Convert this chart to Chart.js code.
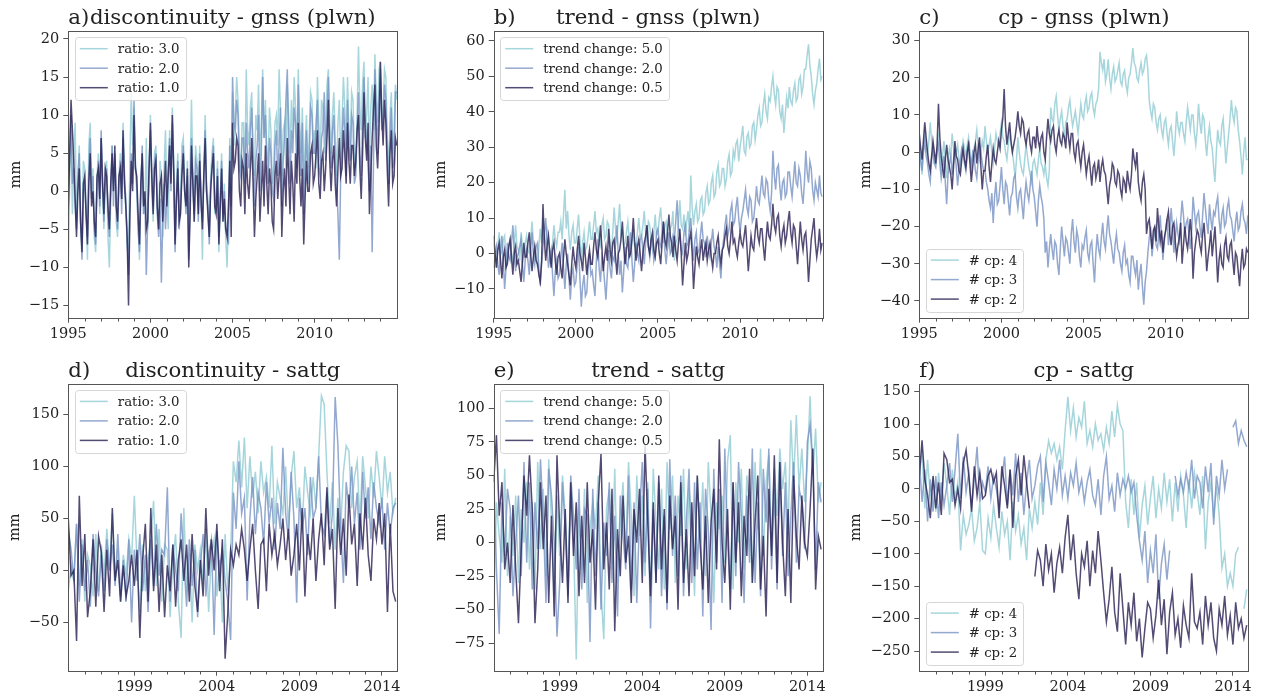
<!DOCTYPE html>
<html>
<head>
<meta charset="utf-8">
<script src="https://cdn.jsdelivr.net/npm/chart.js@4/dist/chart.umd.min.js"></script>
<style>
  body { margin: 0; background: #fff; }
  #figure { position: relative; width: 1263px; height: 697px; }
  #figure canvas { position: absolute; }
</style>
</head>
<body>
<div id="figure"></div>
<script>
// sampling: gnss monthly, sattg every two months, both from Jan 1995
const START_YEAR = 1995;
const GNSS_STEP = 1 / 12;
const SATTG_STEP = 1 / 6;

// tick labels
const gnssYears = [1995, 2000, 2005, 2010];
const sattgYears = [1999, 2004, 2009, 2014];
const ticksDiscGnss = [-15, -10, -5, 0, 5, 10, 15, 20];
const ticksTrendGnss = [-10, 0, 10, 20, 30, 40, 50, 60];
const ticksCpGnss = [-40, -30, -20, -10, 0, 10, 20, 30];
const ticksDiscSattg = [-50, 0, 50, 100, 150];
const ticksTrendSattg = [-75, -50, -25, 0, 25, 50, 75, 100];
const ticksCpSattg = [-250, -200, -150, -100, -50, 0, 50, 100, 150];

// legend entries
const ratioLabels = ['ratio: 3.0', 'ratio: 2.0', 'ratio: 1.0'];
const trendLabels = ['trend change: 5.0', 'trend change: 2.0', 'trend change: 0.5'];
const cpLabels = ['# cp: 4', '# cp: 3', '# cp: 2'];

// gnss (plwn), mm, one row per year
const gnssDiscRatio30 = [
  -10, 2, 8, -3, 5, 9, -4, 1, 6, -5, -7, 4,
  3, -2, -9, 6, 9, 0, 3, -6, -8, 2, 5, -3,
  7, 0, -5, 3, 4, -6, -10, -1, 6, 1, 4, -4,
  -6, 2, 5, -1, 9, 3, -2, -7, -9, 4, 13, 6,
  11, 3, 0, -4, -9, 1, 5, -3, -2, 7, -5, 2,
  10, 0, -4, 5, 6, -2, -5, 4, 2, -6, 3, 8,
  0, -5, 8, 2, 11, 4, -6, 1, 5, -3, -1, 6,
  7, 1, -2, 4, -8, 3, 12, 2, -4, 6, 4, -2,
  6, -1, -9, 3, 10, 1, -1, -6, 2, 5, 7, -3,
  -1, 4, -8, -2, 5, -4, 1, -6, -10, -3, 7, 0,
  13, 6, 10, 15, 12, 5, 3, 9, 9, 2, 16, 8,
  6, 11, 13, 4, 2, 10, 8, 14, 4, 9, 16, 7,
  12, 5, 4, 11, 8, 1, 3, 9, 10, 6, 16, 11,
  2, 8, 9, 3, 14, 10, 5, 12, 7, 15, 11, 4,
  16, 9, 5, 11, 1, 6, 10, 3, 7, 13, 12, 6,
  8, 3, 15, 9, 4, 12, 11, 5, 7, 14, 16, 9,
  5, 10, 13, 7, 2, 9, 12, 4, 9, 15, 11, 6,
  15, 8, 6, 13, 12, 5, 3, 10, 19, 11, 8, 14,
  17, 7, 10, 15, 4, 11, 14, 8, 18, 12, 9, 16,
  17, 9, 11, 16, 15, 7, 2, 10, 13, 5, 8, 14,
  12
];
const gnssDiscRatio20 = [
  -3, 4, 10, 1, 3, -2, -5, 2, 5, -4, -9, 0,
  1, -3, -6, 3, 7, -1, 2, -5, -7, 1, 4, -2,
  8, 2, -4, 1, 3, -3, -6, 0, 6, -2, 5, -1,
  -5, 1, 4, -3, 7, 2, -1, -6, -11, -2, 5, 1,
  12, 4, 1, -5, -8, 0, 6, -3, -1, -11, -4, 3,
  8, 2, -2, 4, 5, -3, -6, -1, -12, -4, 1, -5,
  -1, 3, 7, 0, 9, 2, -8, -2, 4, -5, -2, 3,
  6, 0, -3, 2, -9, -1, 7, 1, -3, 4, 3, -4,
  5, -2, -4, 2, 8, 0, -2, -7, 1, 3, 6, -1,
  -2, 3, -6, -1, 4, -3, 0, -5, -5, -7, 6, -2,
  15, 9, 8, 12, 10, 3, 2, 7, 7, 1, 9, 5,
  3, 8, 11, 5, -2, 4, 6, 10, 0, 5, 15, 7,
  10, 4, 1, 7, 5, 0, -1, 6, 8, 2, 6, 11,
  -2, 4, 7, 12, 16, 6, 1, 8, 5, 11, 9, 3,
  14, 7, 2, 9, -3, 3, 8, 1, 4, 11, 10, 5,
  5, 9, 12, 3, 2, 7, 8, 13, 4, 10, 15, 6,
  3, 8, 10, 4, 1, -3, -9, 2, 6, 11, 8, 2,
  12, 6, 4, 10, 9, 1, 2, 8, 13, 5, 2, 9,
  15, 9, 7, 3, 0, 6, -8, 4, 16, 10, 5, 12,
  16, 8, 9, 14, 12, 5, 1, 7, 11, 3, 4, 13,
  13
];
const gnssDiscRatio10 = [
  -2, 5, 12, 8, 4, -1, -6, 0, 3, -4, -8, 1,
  2, -3, -7, 1, 5, -2, 0, -4, -6, 2, 3, -1,
  7, 1, -3, 3, 2, -2, -5, 1, 5, 0, 6, -2,
  -4, 2, 3, -1, 8, 1, -2, -6, -15, -3, 4, 0,
  10, 3, 2, -3, -7, 1, 5, -2, 0, -5, -4, 3,
  9, 2, -3, 3, 4, -2, -5, 1, 2, -4, 0, 4,
  -2, 2, 6, 1, 10, 3, -7, -1, 3, -4, -3, 2,
  5, 0, -2, 3, -10, -3, 6, 1, -4, 2, 2, -3,
  4, -1, -5, 2, 7, 0, -3, -6, 0, 3, 5, -2,
  -3, 2, -7, -2, 3, -4, -1, -5, -6, -2, 4, -6,
  9, 3, 4, 7, 6, 0, -2, 4, 3, -3, 5, 1,
  -1, 3, 7, 1, -6, -1, 2, 5, -4, 0, 4, -2,
  6, 1, -3, 3, 1, -4, -5, 2, 4, -1, 2, 5,
  -6, 0, 3, -2, 7, 2, -3, 4, 1, -4, 5, 1,
  9, 2, -2, 3, -7, -1, 4, 0, 0, 5, 6, 1,
  2, 5, 8, 1, -1, 4, 5, 0, 3, 7, 12, 4,
  0, 4, 6, 1, -2, 3, 7, 2, 3, 8, 5, 1,
  9, 4, 1, 6, 6, 2, 4, 8, 10, 3, -1, 5,
  13, 7, 4, 9, -3, 2, 7, 11, 14, 6, 3, 8,
  17, 10, 6, 12, 9, 3, -2, 5, 8, 1, 2, 7,
  6
];
const gnssTrend50 = [
  3, -1, -4, 2, 6, 1, 0, 4, 5, -3, -2, 2,
  4, 0, -3, 3, 8, 2, 1, -2, 6, 2, -1, 3,
  5, 1, 0, 4, 9, 3, 2, -1, -4, 2, 7, 3,
  10, 4, 3, 7, 5, 0, -3, 3, 8, 4, 2, 6,
  6, 9, 4, 11, 18, 7, 12, 5, 1, 6, 8, 3,
  3, 7, 11, 4, -2, 3, 6, 1, 2, 5, 9, 4,
  4, 8, 12, 6, 7, 3, 2, 8, 10, 4, 5, 9,
  8, 3, 0, 6, 13, 7, 4, 9, 14, 5, 6, 2,
  3, 6, 9, 4, -1, 3, 7, 2, 2, 6, 10, 5,
  5, 8, 12, 6, 4, 9, 8, 3, 1, 6, 11, 5,
  6, 10, 13, 7, 3, 8, 9, 4, 2, 7, 8, 12,
  -2, 3, 4, 9, 15, 8, 7, 11, 5, 9, 12, 6,
  22, 13, 8, 12, 14, 9, 10, 15, 16, 11, 12, 17,
  19, 14, 15, 20, 22, 16, 17, 23, 25, 19, 20, 24,
  24, 19, 21, 26, 28, 22, 23, 29, 27, 31, 32, 26,
  30, 33, 36, 29, 28, 33, 34, 30, 31, 36, 37, 32,
  35, 39, 41, 36, 37, 42, 45, 40, 38, 44, 43, 47,
  50, 45, 42, 47, 46, 40, 38, 42, 34, 39, 44, 41,
  47, 43, 42, 46, 48, 43, 44, 49, 50, 45, 47, 52,
  52, 56, 59, 53, 50, 45, 42, 46, 48, 52, 55, 49,
  50
];
const gnssTrend20 = [
  -4, 0, 2, -3, -6, 1, 5, -2, -10, -4, 3, -1,
  -2, 3, 8, 1, -5, -1, 0, 2, 4, -3, -8, -2,
  1, -2, -6, 1, 6, 0, -3, 2, 3, -4, -9, -3,
  2, 6, 10, 2, -4, -1, 1, -6, -12, -5, -2, -7,
  -6, -1, 3, -4, -10, -3, 0, -7, -13, -6, -4, -9,
  -8, -3, 2, -7, -15, -9, -6, -12, -11, -4, 0, -6,
  -5, -9, -12, -2, 4, -4, -8, -1, -3, -8, -13, -6,
  1, -4, -7, -1, -2, 3, 8, 0, -6, -2, -11, -5,
  2, -3, -4, 1, 6, -2, -8, -3, 3, 0, -2, 4,
  5, 1, -3, 3, 8, 2, -1, 4, 4, -2, 0, 6,
  7, 3, 2, 6, 9, 1, -3, 2, 6, 0, 1, 5,
  4, 9, 15, 7, 5, 1, 0, 6, 8, 2, 3, 7,
  10, 3, -2, 4, 6, 0, 1, 5, 9, 4, 3, -1,
  5, 1, -1, 3, 7, 2, 0, -4, 2, -3, -7, 1,
  4, 8, 11, 5, 7, 12, 14, 8, 9, 13, 16, 10,
  6, 10, 12, 15, 18, 13, 11, 16, 15, 9, 10, 14,
  19, 15, 14, 18, 22, 17, 16, 21, 20, 15, 12, 17,
  29, 22, 18, 24, 25, 19, 15, 20, 21, 16, 17, 23,
  23, 19, 16, 21, 26, 20, 19, 24, 22, 17, 14, 20,
  29, 23, 20, 26, 24, 18, 15, 20, 18, 16, 22, 17,
  16
];
const gnssTrend05 = [
  5, 0, -4, 1, 3, -2, -7, -1, 1, -4, -3, 2,
  4, -1, -6, 0, 2, -3, -2, -5, -8, -2, 3, -1,
  -1, 3, 6, 0, -5, -1, 2, -2, -3, -6, -8, -2,
  14, 4, -2, 2, 5, 0, -4, 1, 3, -2, -6, -1,
  0, -4, -7, -1, 4, 0, -3, -6, -9, -3, 2, -2,
  -4, 1, 5, 0, -2, -5, 3, -1, -6, -2, 1, -3,
  -3, 2, 6, 1, -1, 3, 8, 2, -5, -1, 2, -2,
  7, 1, -2, 3, 4, -1, -6, 0, 1, 4, 9, 2,
  -3, 1, 5, -1, 0, 4, 10, 3, -2, 2, 4, 0,
  -5, 0, 3, 5, 8, 2, 0, 4, 6, 1, -1, 3,
  4, 0, -3, 3, 9, 4, 2, 6, 11, 5, 3, -1,
  5, 1, -2, 3, 7, 0, -9, -3, 3, -2, 0, 4,
  6, 0, -10, -4, 2, -1, -3, 1, 4, -2, 1, 3,
  -2, 1, 3, -1, -4, 0, 0, 3, 5, 0, -3, 1,
  2, 5, 7, 2, 0, 4, 9, 3, 4, 1, -1, 3,
  6, 3, 2, 5, 8, 2, -5, 0, 5, 2, 1, 6,
  10, 5, 3, 7, 7, 2, -2, 4, 9, 5, 4, 8,
  14, 8, 6, 10, 11, 5, 2, 6, 8, 3, 5, 9,
  12, 6, 3, 8, 7, 2, -3, 3, 9, 4, 1, 5,
  6, 0, -8, -2, 4, 7, 10, 3, -1, 2, 7, 1,
  3
];
const gnssCp4 = [
  2, -2, -6, 1, 5, 2, -1, 3, 8, 3, 0, -3,
  -3, 1, 4, 0, -5, -1, 3, -2, -7, -2, 1, -1,
  5, 1, -2, 0, 2, -2, -4, 0, 3, 1, -1, 2,
  4, 0, -3, -1, 1, 3, 6, 2, -2, 0, 3, 1,
  7, 3, 0, 2, 4, 0, -3, 1, 5, 3, 2, 5,
  8, 4, 3, 0, -2, 2, 6, 2, 0, -3, -7, -2,
  4, 0, -3, -5, -6, -2, 2, -1, -4, -6, -8, -3,
  -2, -4, -6, -2, 1, -3, -4, -6, -3, -7, -9, -5,
  12, 9, 8, 13, 15, 10, 6, 9, 11, 7, 4, 8,
  9, 12, 14, 10, 7, 9, 11, 8, 5, 9, 13, 10,
  9, 13, 15, 11, 12, 15, 16, 12, 10, 13, 14, 17,
  27, 24, 22, 25, 19, 21, 25, 20, 17, 21, 23, 19,
  20, 22, 24, 19, 18, 21, 22, 18, 16, 20, 21, 24,
  28, 24, 23, 20, 19, 22, 24, 21, 22, 25, 26, 22,
  14, 11, 9, 13, 12, 8, 6, 9, 10, 6, 4, 8,
  9, 5, 2, 6, 7, 3, -1, 4, 11, 7, 5, 8,
  8, 5, 3, 8, 12, 9, 6, 10, 10, 5, 2, 6,
  13, 8, 5, 10, 9, 3, -1, 4, 7, 3, 1, -4,
  -8, 0, 6, 3, 2, 7, 9, 3, -3, 1, 5, 9,
  14, 10, 8, 12, 11, 6, 3, -1, -6, 0, 4, -2,
  -2
];
const gnssCp3 = [
  0, -2, -5, 0, 3, -1, -3, -6, -8, -2, 1, -3,
  -4, 0, 2, -3, -7, -4, -1, -8, -14, -6, -3, -1,
  -6, -2, 1, -4, -9, -5, -2, 1, 0, -3, -5, -1,
  3, -1, -4, 0, -1, -5, -7, -2, 2, 0, -3, -5,
  -5, -8, -10, -13, -15, -11, -19, -12, -8, -14, -13, -9,
  -4, -10, -14, -8, -9, -13, -17, -12, -11, -7, -6, -12,
  -15, -11, -10, -14, -18, -12, -8, -11, -13, -9, -5, -10,
  -12, -16, -20, -13, -9, -12, -14, -18, -27, -24, -31, -26,
  -22, -26, -29, -24, -25, -30, -33, -26, -20, -24, -28, -23,
  -24, -27, -30, -22, -18, -24, -27, -21, -23, -28, -31, -25,
  -26, -23, -21, -27, -29, -25, -24, -30, -35, -27, -22, -26,
  -28, -23, -19, -24, -26, -21, -17, -22, -24, -27, -30, -25,
  -22, -26, -27, -30, -32, -27, -25, -30, -29, -33, -35, -28,
  -28, -31, -33, -29, -37, -33, -30, -36, -41, -35, -32, -27,
  -23, -20, -28, -24, -20, -25, -26, -22, -17, -23, -29, -24,
  -21, -18, -25, -21, -15, -20, -27, -23, -19, -22, -24, -18,
  -13, -17, -22, -19, -18, -22, -26, -21, -12, -16, -20, -17,
  -16, -20, -23, -17, -11, -15, -19, -22, -14, -18, -21, -16,
  -17, -14, -12, -18, -22, -17, -15, -20, -19, -15, -13, -17,
  -18, -21, -24, -19, -16, -21, -20, -16, -14, -18, -19, -22,
  -17
];
const gnssCp2 = [
  5, 1, -2, 3, 8, 4, 0, -3, -5, -1, 3, 0,
  -3, 2, 13, 4, -1, -4, -7, -2, 2, -2, -4, -6,
  -10, -4, 3, -1, -2, -5, -6, -2, 1, -2, -4, 0,
  2, -3, -8, -4, 0, 2, -3, 1, 4, -4, -10, -5,
  -5, -1, 2, -4, -8, -3, 1, -2, -3, 0, 3, 1,
  6, 9, 17, 7, 2, 5, 8, 3, 0, 2, 4, 7,
  11, 7, 5, 9, 8, 4, 2, 5, 6, 2, 0, 4,
  4, 1, 7, 3, 1, 4, 5, 0, -2, 4, 9, 5,
  3, 6, 7, 2, 0, 4, 6, 3, 2, 5, 4, 1,
  8, 4, 1, 5, 5, 0, -2, 2, 3, -1, -4, 0,
  2, -2, -6, -3, -1, -5, -9, -4, -3, -7, -5, -2,
  -8, -4, -2, -5, -6, -10, -14, -9, -7, -3, -4, -8,
  -9, -5, -6, -10, -12, -7, -8, -11, -5, -8, -10, -6,
  1, -2, -4, 0, -8, -11, -13, -8, -6, -10, -22, -19,
  -18, -22, -26, -21, -20, -24, -15, -20, -24, -21, -27, -23,
  -21, -18, -16, -22, -25, -20, -19, -24, -28, -25, -23, -19,
  -30, -25, -20, -24, -26, -22, -18, -23, -34, -27, -24, -21,
  -22, -25, -27, -22, -19, -25, -32, -28, -25, -21, -28, -24,
  -20, -27, -35, -29, -26, -30, -31, -25, -23, -28, -29, -25,
  -24, -29, -33, -27, -28, -32, -36, -30, -26, -31, -30, -26,
  -27
];

// sattg, mm, one row per year
const sattgDiscRatio30 = [
  -20, 5, -10, 45, -15, 30,  -30, 15, 5, -25, 35, -20,  25, -5, 40, 0, 55, -10,  20, -30, 15, -5, 30, 10,
  72, 5, -40, 25, -20, 10,  30, 67, -15, 40, -30, 25,  20, -45, 10, 35, -30, -65,  60, -20, 15, -50, 25, 0,
  20, -10, 40, -40, 15, 30,  -25, 10, -50, 35, -20, 15,  105, 85, 125, 80, 128, 60,  110, 70, 95, 55, 105, 75,
  90, 60, 120, 45, 85, 70,  55, 100, 40, 90, 115, 60,  80, 40, 100, 75, 55, 90,  60, 110, 168, 160, 95, 45,
  85, 20, 70, 40, 95, 120,  115, 60, 90, 105, 45, 110,  80, 50, 100, 70, 115, 90,  60, 110, 75, 95, 55, 70
];
const sattgDiscRatio20 = [
  40, 20, -10, 45, -30, 25,  -20, 10, -35, 35, 0, -25,  15, -20, 30, 0, 25, -15,  35, -25, 10, -30, 30, -50,
  20, -10, 35, -20, 15, -40,  30, -15, 45, -5, 20, 15,  80, -30, 25, 0, -20, 55,  10, -35, 30, -15, 20, -45,
  5, 35, -25, 15, 30, -62,  38, 0, 20, -10, -30, -67,  75, 40, 105, 55, 70, -29,  50, 90, 35, 75, 60, 25,
  85, 45, 70, 20, 65, 40,  118, 55, 30, 95, 50, -31,  70, 40, 60, 15, 90, 50,  60, 110, 45, 35, 75, 25,
  55, 167, 120, 40, -12, 85,  60, 100, 45, 75, 20, 95,  50, 80, 30, 85, 60, 45,  70, 20, 65, 35, 60, 65
];
const sattgDiscRatio10 = [
  50, -5, 0, -68, 72, -15,  35, -45, -20, 30, -35, 33,  18, -40, 20, -25, 60, -10,  10, -30, 5, -25, -10, 15,
  -15, 20, -65, 10, 45, -30,  60, -20, 25, -40, 15, -45,  5, -20, 25, -35, 10, 30,  -10, 25, -30, 35, -15, -40,
  10, -25, 60, -5, 30, 0,  45, -20, 30, -85, -40, 20,  5, 25, 15, 40, 20, -10,  20, 45, 0, -37, 25, 30,
  -20, 45, 15, 35, 5, 25,  50, 10, 40, -5, 15, 45,  0, 60, -25, 35, 10, 50,  -10, 30, 55, 5, 80, 20,
  40, -37, 60, 15, 50, -5,  73, 25, 45, -15, 55, 20,  70, 15, -10, 50, 30, 65,  25, 55, -40, 45, -20, -30
];
const sattgTrend50 = [
  -50, 30, 5, -15, 55, -25,  20, -10, 35, -30, 25, 0,  45, -20, 30, -35, 60, -5,  40, -25, 62, 15, -40, 35,
  -10, 50, 20, -30, 45, 5,  -87, 25, -20, 40, -45, 10,  30, 10, 50, -35, -72, 25,  40, -20, 55, -30, 15, 45,
  -10, 60, 20, -40, 50, 5,  35, -25, 45, -45, 55, 15,  -20, 40, -35, 60, 10, 50,  -30, 35, 5, 55, -20, 40,
  15, -40, 50, 0, 45, -25,  60, 20, -45, 30, 10, 35,  -15, 60, 80, -35, 45, 0,  55, -20, 50, 25, -30, 60,
  10, 70, -10, 45, 65, -5,  55, 20, 70, 40, 60, 10,  91, 45, 95, 40, 70, 30,  60, 109, 50, 85, 30, 45
];
const sattgTrend20 = [
  50, -20, -68, 30, -10, 40,  25, -40, 0, 35, -25, 60,  -15, 45, -35, 30, -5, 62,  20, -45, 55, 35, 0, -70,
  -30, 45, 10, -40, 50, 20,  -20, 40, -35, 25, 20, -74,  40, -25, 30, -50, 15, -10,  45, -30, 20, -55, 35, 5,
  -20, 50, -35, 30, -45, 20,  60, -15, 40, -64, 25, -30,  45, -40, 20, -50, 62, -10,  35, -25, 50, -40, 15, 55,
  -30, 45, -20, 30, -55, 40,  10, -65, 55, -15, 40, -45,  70, 0, -35, 45, -25, 60,  20, -45, 35, -15, 70, -30,
  30, -40, 55, 15, 70, -20,  40, -35, 60, -10, 45, -25,  20, 60, -15, 40, 30, -5,  75, 88, 55, -20, 45, 30
];
const sattgTrend05 = [
  45, 80, 20, 45, -20, 0,  -30, 28, -20, -60, -5, 50,  20, 65, 25, -60, -20, 45,  -5, 35, -45, 20, -55, 65,
  10, -30, 25, -45, 45, -10,  30, -40, 20, -30, 45, -15,  10, -50, 30, 66, -20, 15,  -35, 40, -66, 10, -25, 35,
  -15, 5, -45, 25, 0, 40,  -30, 73, 15, -40, 30, -30,  50, -20, 25, -45, 35, -5,  20, -50, 45, -30, 10, -40,
  30, -25, 50, 0, -35, 20,  -45, 15, 40, -20, 77, 0,  -30, 25, -50, 45, -15, 30,  -40, 20, -10, 55, -30, 15,
  50, -35, 5, -55, 40, -10,  65, -30, 60, 0, -40, 25,  -45, 50, 5, -20, 35, 0,  -10, 25, 70, -35, 5, -5
];
const sattgCp4 = [
  20, 60, -30, 45, -10, 15,  -35, 25, -20, 40, 5, -40,  30, -15, 10, -95, -40, -70,  -55, -30, -80, -60, -20, -95,
  -100, -45, -75, -25, -60, -90,  -35, -70, -50, -110, -20, -65,  -40, -85, -60, -110, -30, -60,  -20, -55, 10, -40, 45, 74,
  55, 70, 45, 65, 30, 90,  142, 90, 125, 80, 110, 95,  135, 70, 90, 65, 100, 75,  85, 60, 95, 70, 120, 80,
  129, 100, 90, -20, -60, 15,  -40, 10, -76, -25, 5, -55,  -15, 20, -45, 0, -30, 25,  -20, 15, -50, 10, -35, 20,
  -10, -60, 15, -30, 25, -5,  -40, 20, -93, -20, 10, -45,  5, -40, -122, -100, -150, -130,  -150, -100, -90, null, -185, -155
];
const sattgCp3 = [
  45, -20, 30, -50, 15, -35,  20, -45, 10, -25, 5, 40,  -20, 30, 85, -15, 50, -5,  25, -30, 15, 65, -20, 10,
  -5, 35, -15, 20, 0, -30,  15, 50, -25, 30, -10, 55,  -20, 25, -40, 10, 45, -15,  5, 35, 50, -20, 40, 10,
  -25, 30, 0, 45, -10, 20,  -15, 25, 5, 40, -5, 15,  -20, 10, 30, -10, -25, 15,  -40, 20, 50, -15, 5, -35,
  25, -10, 15, 0, 20, -5,  10, -40, -80, -110, -65, -145,  -95, -130, -70, -170, -115, -85,  -140, -95, null, 20, -10, 15,
  -5, 25, 0, 45, -15, 20,  10, -30, 35, -5, 40, -55,  20, -10, 45, 0, 30, null,  95, 105, 70, 90, 75, 65
];
const sattgCp2 = [
  20, 75, 15, -10, -45, 20,  -30, 10, -40, 55, 45, 10,  15, -25, 0, -30, 40, 60,  20, -35, 35, -10, 25, -15,
  -10, 20, 30, 10, 25, -45,  35, 5, -30, 30, -60, 20,  45, -10, 52, 10, -30, null,  -135, -95, -110, -150, -85, -125,
  -100, -160, -115, -90, -130, -75,  -40, -110, -70, -130, -170, -100,  -120, -80, -150, -95, -130, -65,  -110, -160, -205, -170, -120, -190,
  -220, -130, -185, -240, -175, -210,  -160, -235, -200, -260, -215, -175,  -185, -230, -195, -140, -210, -170,  -255, -190, -160, -225, -200, -245,
  -180, -210, -230, -130, -205, -215,  -190, -240, -165, -210, -175, -230,  -250, -185, -210, -165, -225, -195,  -240, -175, -215, -200, -230, -210
];

const SERIF = '"DejaVu Serif", "Liberation Serif", serif';
const TEXT = '#222';
const FRAME = '#555';
const COLORS = ['rgba(144,204,211,0.8)', 'rgba(120,146,195,0.8)', 'rgba(40,30,80,0.8)'];

// canvas boxes and plot areas in page pixels
const COLS = [
  { x: 0, w: 420, left: 68.3, right: 397.3 },
  { x: 420, w: 421, left: 493.7, right: 822.7 },
  { x: 841, w: 422, left: 919.3, right: 1248.3 }
];
const ROWS = [
  { y: 0, h: 345, top: 31.3, bottom: 317.7, titleY: 24 },
  { y: 345, h: 352, top: 384, bottom: 670.7, titleY: 376.7 }
];

const panels = [
  { col: 0, row: 0, tag: 'a)', title: 'discontinuity - gnss (plwn)', series: [gnssDiscRatio30, gnssDiscRatio20, gnssDiscRatio10], step: GNSS_STEP,
    labels: ratioLabels, legend: 'upper', yMin: -16.6, yMax: 21, yTicks: ticksDiscGnss, xMax: 2015.03, years: gnssYears, ylabelDx: 52 },
  { col: 1, row: 0, tag: 'b)', title: 'trend - gnss (plwn)', series: [gnssTrend50, gnssTrend20, gnssTrend05], step: GNSS_STEP,
    labels: trendLabels, legend: 'upper', yMin: -18.1, yMax: 62.7, yTicks: ticksTrendGnss, xMax: 2015.03, years: gnssYears, ylabelDx: 52 },
  { col: 2, row: 0, tag: 'c)', title: 'cp - gnss (plwn)', series: [gnssCp4, gnssCp3, gnssCp2], step: GNSS_STEP,
    labels: cpLabels, legend: 'lower', yMin: -44.5, yMax: 32.5, yTicks: ticksCpGnss, xMax: 2015.03, years: gnssYears, ylabelDx: 53 },
  { col: 0, row: 1, tag: 'd)', title: 'discontinuity - sattg', series: [sattgDiscRatio30, sattgDiscRatio20, sattgDiscRatio10], step: SATTG_STEP,
    labels: ratioLabels, legend: 'upper', yMin: -96.5, yMax: 179.5, yTicks: ticksDiscSattg, xMax: 2014.93, years: sattgYears, ylabelDx: 53 },
  { col: 1, row: 1, tag: 'e)', title: 'trend - sattg', series: [sattgTrend50, sattgTrend20, sattgTrend05], step: SATTG_STEP,
    labels: trendLabels, legend: 'upper', yMin: -95.4, yMax: 118.1, yTicks: ticksTrendSattg, xMax: 2014.93, years: sattgYears, ylabelDx: 52 },
  { col: 2, row: 1, tag: 'f)', title: 'cp - sattg', series: [sattgCp4, sattgCp3, sattgCp2], step: SATTG_STEP,
    labels: cpLabels, legend: 'lower', yMin: -280.3, yMax: 161.8, yTicks: ticksCpSattg, xMax: 2014.93, years: sattgYears, ylabelDx: 63 }
];

const fmt = v => (v < 0 ? '\u2212' + Math.abs(v) : String(v));

function crisp(v) { return Math.round(v) + 0.5; }

function drawLegend(ctx, area, labels, corner) {
  ctx.font = '13.3px ' + SERIF;
  const textW = Math.max(...labels.map(t => ctx.measureText(t).width));
  const w = 5 + 28 + 10 + textW + 6;
  const h = 62.5;
  const x = area.left + 6.5;
  const y = corner === 'upper' ? area.top + 6 : area.bottom - 6.5 - h;
  ctx.beginPath();
  ctx.roundRect(crisp(x), crisp(y), Math.round(w), Math.round(h), 3);
  ctx.fillStyle = 'rgba(255,255,255,0.8)';
  ctx.fill();
  ctx.strokeStyle = '#d6d6d6';
  ctx.lineWidth = 1;
  ctx.stroke();
  labels.forEach((t, i) => {
    const cy = y + 11.4 + i * 19.5;
    ctx.beginPath();
    ctx.moveTo(x + 5, cy);
    ctx.lineTo(x + 33, cy);
    ctx.strokeStyle = COLORS[i];
    ctx.lineWidth = 1.5;
    ctx.stroke();
    ctx.fillStyle = TEXT;
    ctx.textAlign = 'left';
    ctx.textBaseline = 'middle';
    ctx.fillText(t, x + 43, cy + 1);
  });
}

// frame, minor ticks, titles, axis label and legend
const decor = {
  id: 'decor',
  afterDraw(chart, args, opts) {
    const p = opts.panel;
    const { ctx, chartArea: a } = chart;
    const xs = chart.scales.x;
    ctx.save();
    ctx.strokeStyle = FRAME;
    ctx.lineWidth = 1;
    const l = crisp(a.left), t = crisp(a.top), r = crisp(a.right), b = crisp(a.bottom);
    ctx.strokeRect(l, t, r - l, b - t);
    ctx.beginPath();
    for (let yr = Math.ceil(xs.min); yr <= xs.max; yr++) {
      if (p.years.includes(yr)) continue;
      const px = crisp(xs.getPixelForValue(yr));
      if (px - l < 1 || r - px < 1) continue;
      ctx.moveTo(px, b);
      ctx.lineTo(px, b + 3);
    }
    ctx.stroke();

    const row = ROWS[p.row];
    const ty = row.titleY - row.y;
    ctx.fillStyle = TEXT;
    ctx.font = '21.3px ' + SERIF;
    ctx.textBaseline = 'alphabetic';
    ctx.textAlign = 'left';
    ctx.fillText(p.tag, a.left, ty);
    ctx.textAlign = 'center';
    ctx.fillText(p.title, (a.left + a.right) / 2, ty);

    ctx.font = '14.5px ' + SERIF;
    ctx.translate(a.left - p.ylabelDx, (a.top + a.bottom) / 2);
    ctx.rotate(-Math.PI / 2);
    ctx.textAlign = 'center';
    ctx.textBaseline = 'middle';
    ctx.fillText('mm', 0, 0);
    ctx.setTransform(1, 0, 0, 1, 0, 0);

    drawLegend(ctx, a, p.labels, p.legend);
    ctx.restore();
  }
};

const figure = document.getElementById('figure');

panels.forEach(p => {
  const col = COLS[p.col], row = ROWS[p.row];
  const canvas = document.createElement('canvas');
  canvas.width = col.w;
  canvas.height = row.h;
  canvas.style.left = col.x + 'px';
  canvas.style.top = row.y + 'px';
  canvas.style.width = col.w + 'px';
  canvas.style.height = row.h + 'px';
  figure.appendChild(canvas);

  const yAxisWidth = col.left - col.x;
  const xAxisHeight = row.y + row.h - row.bottom;

  const datasets = p.series.map((arr, i) => ({
    label: p.labels[i],
    data: arr.map((v, k) => ({ x: START_YEAR + k * p.step, y: v })),
    borderColor: COLORS[i],
    borderWidth: 1.5,
    pointRadius: 0,
    fill: false,
    tension: 0,
    spanGaps: false,
    order: 3 - i
  }));

  new Chart(canvas, {
    type: 'line',
    data: { datasets },
    options: {
      responsive: false,
      animation: false,
      devicePixelRatio: 1,
      events: [],
      layout: { padding: { left: 0, top: row.top - row.y, right: col.x + col.w - col.right, bottom: 0 } },
      plugins: {
        legend: { display: false },
        title: { display: false },
        tooltip: { enabled: false },
        decor: { panel: p }
      },
      scales: {
        x: {
          type: 'linear',
          min: START_YEAR,
          max: p.xMax,
          afterBuildTicks: s => { s.ticks = p.years.map(v => ({ value: v })); },
          afterFit: s => { s.height = xAxisHeight; s.paddingLeft = 0; s.paddingRight = 0; },
          border: { display: false },
          grid: { drawOnChartArea: false, drawTicks: true, tickLength: 5, color: FRAME, tickColor: FRAME },
          ticks: { autoSkip: false, maxRotation: 0, padding: 3, color: TEXT, font: { family: SERIF, size: 14.5 }, callback: v => String(v) }
        },
        y: {
          type: 'linear',
          min: p.yMin,
          max: p.yMax,
          afterBuildTicks: s => { s.ticks = p.yTicks.map(v => ({ value: v })); },
          afterFit: s => { s.width = yAxisWidth; },
          border: { display: false },
          grid: { drawOnChartArea: false, drawTicks: true, tickLength: 5, color: FRAME, tickColor: FRAME },
          ticks: { autoSkip: false, padding: 4, color: TEXT, font: { family: SERIF, size: 14.5 }, callback: v => fmt(v) }
        }
      }
    },
    plugins: [decor]
  });
});
</script>
</body>
</html>
